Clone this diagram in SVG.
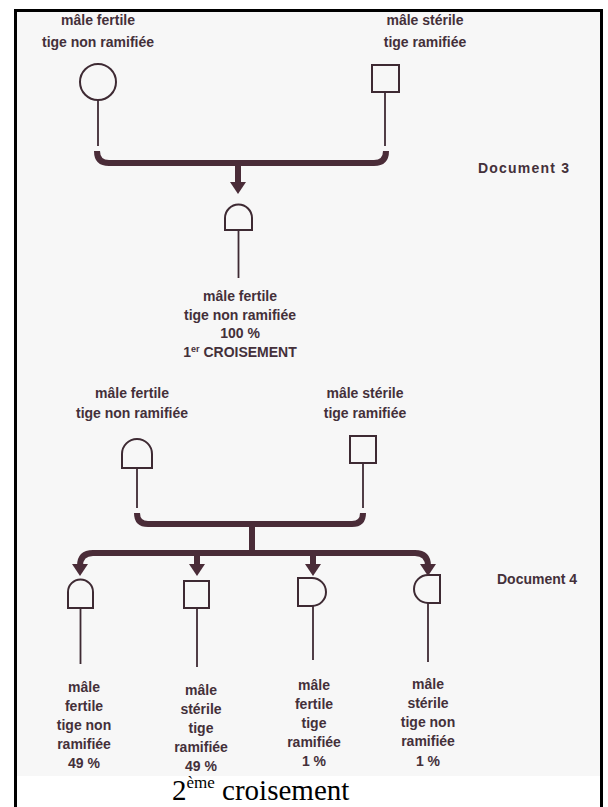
<svg xmlns="http://www.w3.org/2000/svg" width="608" height="807" viewBox="0 0 608 807">
<style>
.t{font-family:"Liberation Sans",Arial,sans-serif;font-size:14px;font-weight:bold;fill:#44303a;text-anchor:middle}
.d{font-family:"Liberation Sans",Arial,sans-serif;font-size:14px;font-weight:bold;fill:#44303a}
.s{fill:none;stroke:#3e2a33;stroke-width:2}
.st{fill:none;stroke:#3e2a33;stroke-width:1.8}
.br{fill:none;stroke:#4a2c38;stroke-width:6;stroke-linecap:butt}
.ah{fill:#4a2c38}
.cap{font-family:"Liberation Serif","Times New Roman",serif;font-size:29px;fill:#000}
</style>
<rect x="0" y="0" width="608" height="807" fill="#fff"/>
<rect x="15" y="11" width="585" height="765" fill="#f7f7f7"/>
<path d="M15.5 807 V10.5 H601.5 V807" fill="none" stroke="#000" stroke-width="3"/>

<g id="p1-fertile">
<text class="t" x="98" y="25">mâle fertile</text>
<text class="t" x="98" y="47">tige non ramifiée</text>
<circle class="s" cx="98" cy="82" r="18"/>
<line class="st" x1="98" y1="100" x2="98" y2="146"/>
</g>
<g id="p1-sterile">
<text class="t" x="425" y="25">mâle stérile</text>
<text class="t" x="425" y="47">tige ramifiée</text>
<rect class="s" x="372" y="65" width="27" height="27"/>
<line class="st" x1="385" y1="92" x2="385" y2="146"/>
</g>
<g id="f1">
<path class="s" d="M225 230 V218 A13.5 13.5 0 0 1 252 218 V230 Z"/>
<line class="st" x1="238.5" y1="230" x2="238.5" y2="278"/>
<text class="t" x="240" y="301">mâle fertile</text>
<text class="t" x="240" y="320">tige non ramifiée</text>
<text class="t" x="240" y="338">100 %</text>
<text class="t" x="240" y="357">1<tspan font-size="9" dy="-5">er</tspan><tspan dy="5"> CROISEMENT</tspan></text>
</g>
<g id="doc3"><text class="d" x="478" y="173" letter-spacing="1.2">Document 3</text></g>

<g id="p2-fertile">
<text class="t" x="132" y="398">mâle fertile</text>
<text class="t" x="132" y="418">tige non ramifiée</text>
<path class="s" d="M122 468 V454 A15 15 0 0 1 152 454 V468 Z"/>
<line class="st" x1="137" y1="468" x2="137" y2="508"/>
</g>
<g id="p2-sterile">
<text class="t" x="365" y="398">mâle stérile</text>
<text class="t" x="365" y="418">tige ramifiée</text>
<rect class="s" x="350" y="436" width="26" height="27"/>
<line class="st" x1="363" y1="463" x2="363" y2="508"/>
</g>
<g id="doc4"><text class="d" x="497" y="584" font-size="13">Document 4</text></g>

<g id="o1">
<path class="s" d="M68 608 V592 A12.5 12.5 0 0 1 93 592 V608 Z"/>
<line class="st" x1="80.5" y1="608" x2="80.5" y2="664"/>
<text class="t" x="84" y="692">mâle</text>
<text class="t" x="84" y="711">fertile</text>
<text class="t" x="84" y="730">tige non</text>
<text class="t" x="84" y="749">ramifiée</text>
<text class="t" x="84" y="768">49 %</text>
</g>
<g id="o2">
<rect class="s" x="184" y="581" width="25" height="27"/>
<line class="st" x1="197" y1="608" x2="197" y2="667"/>
<text class="t" x="201" y="695">mâle</text>
<text class="t" x="201" y="714">stérile</text>
<text class="t" x="201" y="733">tige</text>
<text class="t" x="201" y="752">ramifiée</text>
<text class="t" x="201" y="771">49 %</text>
</g>
<g id="o3">
<path class="s" d="M298 578 H312 A14 14 0 0 1 312 606 H298 Z"/>
<line class="st" x1="313" y1="606" x2="313" y2="660"/>
<text class="t" x="314" y="690">mâle</text>
<text class="t" x="314" y="709">fertile</text>
<text class="t" x="314" y="728">tige</text>
<text class="t" x="314" y="747">ramifiée</text>
<text class="t" x="314" y="766">1 %</text>
</g>
<g id="o4">
<path class="s" d="M440 575 H428 A14 14 0 0 0 428 603 H440 Z"/>
<line class="st" x1="428" y1="603" x2="428" y2="662"/>
<text class="t" x="428" y="689">mâle</text>
<text class="t" x="428" y="708">stérile</text>
<text class="t" x="428" y="727">tige non</text>
<text class="t" x="428" y="746">ramifiée</text>
<text class="t" x="428" y="766">1 %</text>
</g>

<g id="connectors">
<path class="br" d="M97 151 Q97 163 109 163 H374 Q386 163 386 151"/>
<line class="br" x1="238" y1="163" x2="238" y2="184"/>
<polygon class="ah" points="230,182 246,182 238,194"/>

<path class="br" d="M137 513 Q137 524 148 524 H352 Q363 524 363 513"/>
<line class="br" x1="252" y1="524" x2="252" y2="553"/>
<path class="br" d="M80 566 Q80 553 93 553 H415 Q428 553 428 566"/>
<line class="br" x1="197" y1="553" x2="197" y2="566"/>
<line class="br" x1="313" y1="553" x2="313" y2="566"/>
<polygon class="ah" points="72,564 88,564 80,576"/>
<polygon class="ah" points="189,564 205,564 197,576"/>
<polygon class="ah" points="305,564 321,564 313,576"/>
<polygon class="ah" points="420,564 436,564 428,576"/>
</g>

<text class="cap" x="172" y="800">2<tspan font-size="17" dy="-12">ème</tspan><tspan dy="12"> croisement</tspan></text>
</svg>
